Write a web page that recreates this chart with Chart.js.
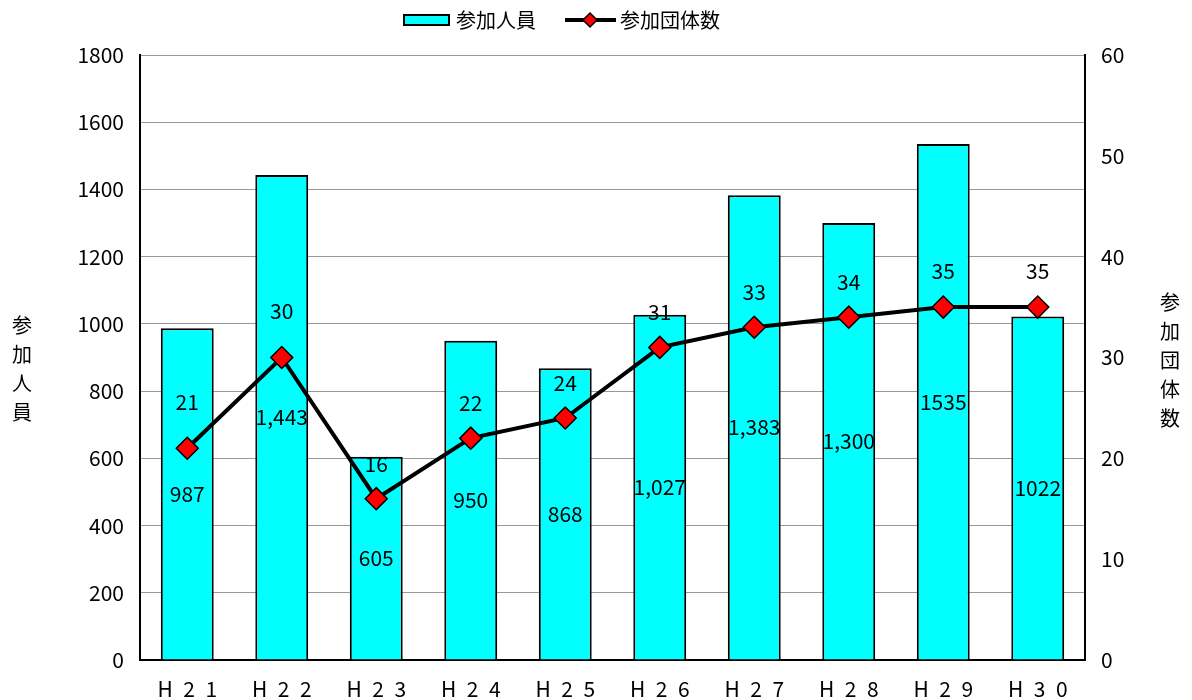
<!DOCTYPE html>
<html>
<head>
<meta charset="utf-8">
<script src="https://cdn.jsdelivr.net/npm/chart.js@4"></script>
<style>
  body { margin: 0; background: #fff; }
  #wrap { width: 1192px; height: 700px; }
</style>
</head>
<body>
<div id="wrap"><canvas id="myChart" width="1192" height="700"></canvas></div>
<script>
let categories = ['H21', 'H22', 'H23', 'H24', 'H25', 'H26', 'H27', 'H28', 'H29', 'H30'];
let members = [987, 1443, 605, 950, 868, 1027, 1383, 1300, 1535, 1022];
let memberLabels = ['987', '1,443', '605', '950', '868', '1,027', '1,383', '1,300', '1535', '1022'];
let groups = [21, 30, 16, 22, 24, 31, 33, 34, 35, 35];

let jpFont = '"Noto Sans CJK JP", "Noto Sans", sans-serif';

// labels, legend and stacked axis titles
let extras = {
    id: 'extras',
    afterDatasetsDraw: function (chart) {
        const ctx = chart.ctx;
        ctx.save();
        ctx.fillStyle = '#000';
        ctx.font = '21px ' + jpFont;
        ctx.textAlign = 'center';
        ctx.textBaseline = 'middle';

        let barMeta = chart.getDatasetMeta(0);
        barMeta.data.forEach(function (bar, i) {
            let mid = (bar.y + bar.base) / 2;
            ctx.fillText(memberLabels[i], bar.x, mid);
        });
        // the first two labels sit a bit higher in the original
        let lift = [46, 46, 35, 35, 35, 35, 35, 35, 36, 36];
        let lineMeta = chart.getDatasetMeta(1);
        lineMeta.data.forEach(function (pt, i) {
            ctx.fillText(String(groups[i]), pt.x, pt.y - lift[i]);
        });

        // legend
        ctx.fillStyle = '#00FFFF';
        ctx.strokeStyle = '#000';
        ctx.lineWidth = 2;
        ctx.fillRect(404, 15, 45, 10);
        ctx.strokeRect(404, 15, 45, 10);
        ctx.fillStyle = '#000';
        ctx.textAlign = 'left';
        ctx.font = '20px ' + jpFont;
        ctx.fillText('参加人員', 456, 20);
        ctx.lineWidth = 4;
        ctx.beginPath();
        ctx.moveTo(565, 20);
        ctx.lineTo(616, 20);
        ctx.stroke();
        ctx.fillStyle = '#FF0000';
        ctx.lineWidth = 1.5;
        ctx.beginPath();
        ctx.moveTo(590, 13);
        ctx.lineTo(597, 20);
        ctx.lineTo(590, 27);
        ctx.lineTo(583, 20);
        ctx.closePath();
        ctx.fill();
        ctx.stroke();
        ctx.fillStyle = '#000';
        ctx.fillText('参加団体数', 620, 20);

        // axis titles
        ctx.textAlign = 'center';
        ctx.font = '20px ' + jpFont;
        ['参', '加', '人', '員'].forEach(function (c, i) {
            ctx.fillText(c, 22, 325 + i * 29);
        });
        ['参', '加', '団', '体', '数'].forEach(function (c, i) {
            ctx.fillText(c, 1170, 302 + i * 29);
        });
        ctx.restore();
    }
};

const ctx = document.getElementById('myChart').getContext('2d');
var myChart = new Chart(ctx, {
    data: {
        labels: categories,
        datasets: [{
            type: 'bar',
            label: '参加人員',
            data: members,
            yAxisID: 'y',
            backgroundColor: '#00FFFF',
            borderColor: '#000',
            borderWidth: 2,
            barPercentage: 0.56,
            categoryPercentage: 1.0,
            order: 2
        }, {
            type: 'line',
            label: '参加団体数',
            data: groups,
            yAxisID: 'y1',
            borderColor: '#000',
            borderWidth: 4,
            tension: 0,
            pointStyle: 'rectRot',
            pointRadius: 11,
            pointBackgroundColor: '#FF0000',
            pointBorderColor: '#000',
            pointBorderWidth: 1.5,
            order: 1
        }]
    },
    plugins: [extras],
    options: {
        responsive: false,
        animation: false,
        layout: { padding: { top: 55, left: 0, right: 0, bottom: 0 } },
        plugins: {
            legend: { display: false },
            tooltip: { enabled: false }
        },
        scales: {
            x: {
                afterFit: function (s) { s.height = 40; },
                grid: { display: false },
                border: { color: '#000', width: 2 },
                ticks: {
                    color: '#000',
                    font: { family: jpFont, size: 21 },
                    padding: 8,
                    callback: function (v, i) { return categories[i].split('').join('\u2002'); }
                }
            },
            y: {
                position: 'left',
                min: 0,
                max: 1800,
                afterFit: function (s) { s.width = 140; },
                grid: { color: '#999', lineWidth: 1, drawTicks: false },
                border: { color: '#000', width: 2 },
                ticks: {
                    stepSize: 200,
                    color: '#000',
                    padding: 16,
                    font: { family: jpFont, size: 21 },
                    callback: function (v) { return String(v); }
                }
            },
            y1: {
                position: 'right',
                min: 0,
                max: 60,
                afterFit: function (s) { s.width = 107; },
                grid: { drawOnChartArea: false, drawTicks: false },
                border: { color: '#000', width: 2 },
                ticks: {
                    stepSize: 10,
                    color: '#000',
                    padding: 16,
                    font: { family: jpFont, size: 21 }
                }
            }
        }
    }
});
</script>
</body>
</html>
